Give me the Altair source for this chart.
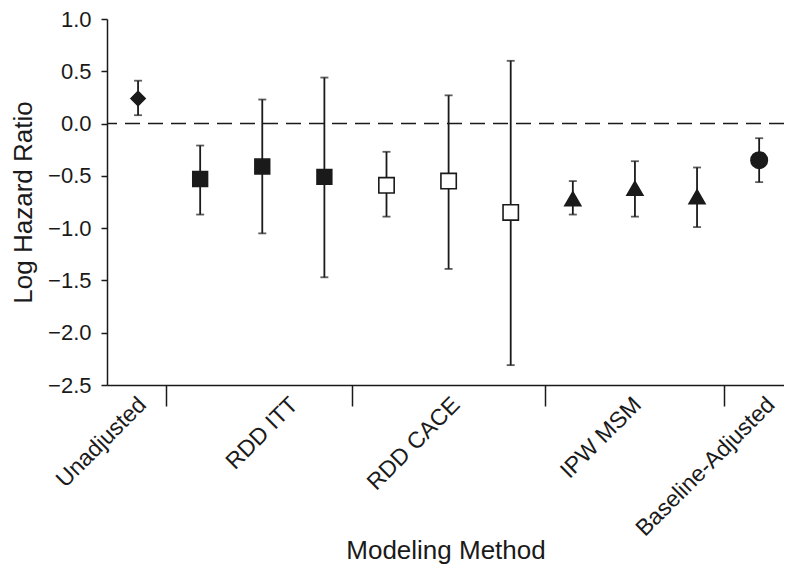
import altair as alt
import pandas as pd

# ---- data ----
methods = ["Unadjusted", "RDD ITT", "RDD CACE", "IPW MSM", "Baseline-Adjusted"]
marker = ["diamond", "sq_fill", "sq_fill", "sq_fill", "sq_open", "sq_open", "sq_open",
          "tri", "tri", "tri", "circ"]
position = [1, 2, 3, 4, 5, 6, 7, 8, 9, 10, 11]
estimate = [0.24, -0.53, -0.41, -0.51, -0.59, -0.55, -0.85, -0.72, -0.62, -0.70, -0.35]
lower = [0.08, -0.87, -1.05, -1.47, -0.89, -1.39, -2.31, -0.87, -0.89, -0.99, -0.56]
upper = [0.41, -0.21, 0.23, 0.44, -0.27, 0.27, 0.60, -0.55, -0.36, -0.42, -0.14]

# axis positions (data units) of group separators and category labels
separator_ticks = [1.445, 4.445, 7.547, 10.439]
label_positions = [0.94, 3.38, 5.99, 8.91, 11.06]
y_ticks = [-2.5, -2.0, -1.5, -1.0, -0.5, 0.0, 0.5, 1.0]

df = pd.DataFrame({"pos": position, "est": estimate, "lo": lower, "hi": upper, "marker": marker})

INK = "#1a1a1a"
FONT = "Liberation Sans"

label_expr = "''"
for p, m in reversed(list(zip(label_positions, methods))):
    label_expr = f"datum.value == {p!r} ? '{m}' : ({label_expr})"

sep_test = "indexof([" + ",".join(repr(v) for v in separator_ticks) + "], datum.value) >= 0"

xaxis = alt.Axis(
    values=separator_ticks + label_positions,
    labelExpr=label_expr,
    labelAngle=-45,
    labelAlign="right",
    labelBaseline="top",
    labelFontSize=23,
    labelFont=FONT,
    labelColor=INK,
    labelPadding=-13,
    labelLimit=400,
    labelOverlap=False,
    labelFlush=False,
    labelBound=False,
    tickSize=21,
    tickWidth=1.5,
    tickColor={"condition": {"test": sep_test, "value": INK}, "value": "transparent"},
    domainColor=INK,
    domainWidth=1.5,
    grid=False,
    title="Modeling Method",
    titleFont=FONT,
    titleFontSize=26,
    titleFontWeight="normal",
    titleColor=INK,
    titleY=173,
    titleBaseline="alphabetic",
)

yaxis = alt.Axis(
    values=y_ticks,
    format=".1f",
    labelFontSize=22,
    labelFont=FONT,
    labelColor=INK,
    labelPadding=10,
    tickSize=6,
    tickWidth=1.5,
    tickColor=INK,
    domainColor=INK,
    domainWidth=1.5,
    grid=False,
    title="Log Hazard Ratio",
    titleFont=FONT,
    titleFontSize=26,
    titleFontWeight="normal",
    titleColor=INK,
    titleX=-76,
    titleBaseline="alphabetic",
)

xscale = alt.Scale(domain=[0.5, 11.4], nice=False, zero=False)
yscale = alt.Scale(domain=[-2.5, 1.0], nice=False, zero=False)

X = alt.X("pos:Q", scale=xscale, axis=xaxis)

base = alt.Chart(df)

zero_line = alt.Chart(pd.DataFrame({"z": [0.0]})).mark_rule(
    color=INK, strokeWidth=1.6, strokeDash=[15, 8]
).encode(y=alt.Y("z:Q", scale=yscale, axis=yaxis))

bars = base.mark_rule(color=INK, strokeWidth=1.8).encode(
    x=X,
    y=alt.Y("lo:Q", scale=yscale, axis=yaxis),
    y2="hi:Q",
)

cap_lo = base.mark_tick(orient="horizontal", size=8, thickness=1.8, color=INK).encode(
    x=X, y=alt.Y("lo:Q", scale=yscale, axis=yaxis)
)
cap_hi = base.mark_tick(orient="horizontal", size=8, thickness=1.8, color=INK).encode(
    x=X, y=alt.Y("hi:Q", scale=yscale, axis=yaxis)
)

mk_domain = ["diamond", "sq_fill", "sq_open", "tri", "circ"]
points = base.mark_point(stroke=INK, strokeWidth=1.6, opacity=1, fillOpacity=1).encode(
    x=X,
    y=alt.Y("est:Q", scale=yscale, axis=yaxis),
    shape=alt.Shape("marker:N", scale=alt.Scale(
        domain=mk_domain, range=["diamond", "square", "square", "triangle-up", "circle"]), legend=None),
    fill=alt.Fill("marker:N", scale=alt.Scale(
        domain=mk_domain, range=[INK, INK, "white", INK, INK]), legend=None),
    size=alt.Size("marker:N", scale=alt.Scale(
        domain=mk_domain, range=[200, 272, 225, 256, 225]), legend=None),
)

chart = alt.layer(bars, zero_line, cap_lo, cap_hi, points).properties(
    width=677,
    height=366,
    padding={"left": 99, "top": 11, "right": 0, "bottom": 179},
    autosize="none",
    background="white",
).configure_view(stroke=None)

chart.save("out.html", embed_options={"renderer": "svg", "actions": False})
